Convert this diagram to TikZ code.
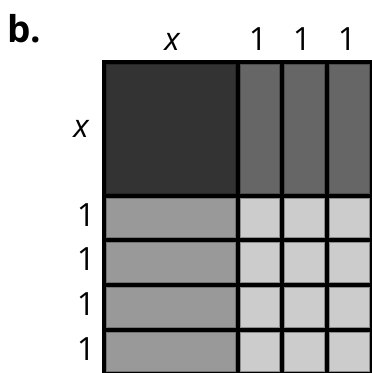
\documentclass[tikz,border=0pt]{standalone}
\usepackage{fontspec}
\setmainfont{Open Sans}
\begin{document}
\begin{tikzpicture}[x=1pt,y=-1pt,
  lbl/.style={inner sep=0pt,anchor=base,font=\fontsize{32}{38}\selectfont},
  gridline/.style={line width=4pt,black},
  cellA/.style={fill=black!80,draw=black!85,line width=1pt},
  cellB/.style={fill=black!60,draw=black!70,line width=1pt},
  cellC/.style={fill=black!40,draw=black!55,line width=1pt},
  cellD/.style={fill=black!20,draw=black!45,line width=1pt}]
\useasboundingbox (0,0) rectangle (372,373);
\clip (0,0) rectangle (372,373);
\def\u{44.6}
\def\L{104}
\def\T{62}
\pgfmathsetmacro{\X}{\L+3*\u}
\pgfmathsetmacro{\Y}{\T+3*\u}
% x by x square
\draw[cellA] (\L+2.5,\T+2.5) rectangle (\X-2.5,\Y-2.5);
% x by 1 strips (top right)
\foreach \i in {0,1,2}{
  \draw[cellB] (\X+\i*\u+2.5,\T+2.5) rectangle (\X+\i*\u+\u-2.5,\Y-2.5);
}
% 1 by x strips (bottom left)
\foreach \j in {0,1,2,3}{
  \draw[cellC] (\L+2.5,\Y+\j*\u+2.5) rectangle (\X-2.5,\Y+\j*\u+\u-2.5);
}
% unit squares
\foreach \i in {0,1,2}{
  \foreach \j in {0,1,2,3}{
    \draw[cellD] (\X+\i*\u+2.5,\Y+\j*\u+2.5) rectangle (\X+\i*\u+\u-2.5,\Y+\j*\u+\u-2.5);
  }
}
% grid lines
\draw[gridline] (\L,\T) -- (\L,\Y+4*\u);
\foreach \i in {0,1,2,3}{
  \draw[gridline] (\X+\i*\u,\T) -- (\X+\i*\u,\Y+4*\u);
}
\draw[gridline] (\L-2,\T) -- (\X+3*\u+2,\T);
\foreach \j in {0,1,2,3,4}{
  \draw[gridline] (\L-2,\Y+\j*\u) -- (\X+3*\u+2,\Y+\j*\u);
}
% labels
\node[inner sep=0pt,anchor=base west,font=\bfseries\fontsize{37}{44}\selectfont] (title) at (7,42) {b.};
\node[lbl] (tx) at (172,50) {\itshape x};
\node[lbl] (t1) at (258,50) {1};
\node[lbl] (t2) at (302,50) {1};
\node[lbl] (t3) at (347,50) {1};
\node[lbl] (lx) at (81,137) {\itshape x};
\node[lbl] (l1) at (86,226) {1};
\node[lbl] (l2) at (86,270) {1};
\node[lbl] (l3) at (86,315) {1};
\node[lbl] (l4) at (86,360) {1};
\end{tikzpicture}
\end{document}
